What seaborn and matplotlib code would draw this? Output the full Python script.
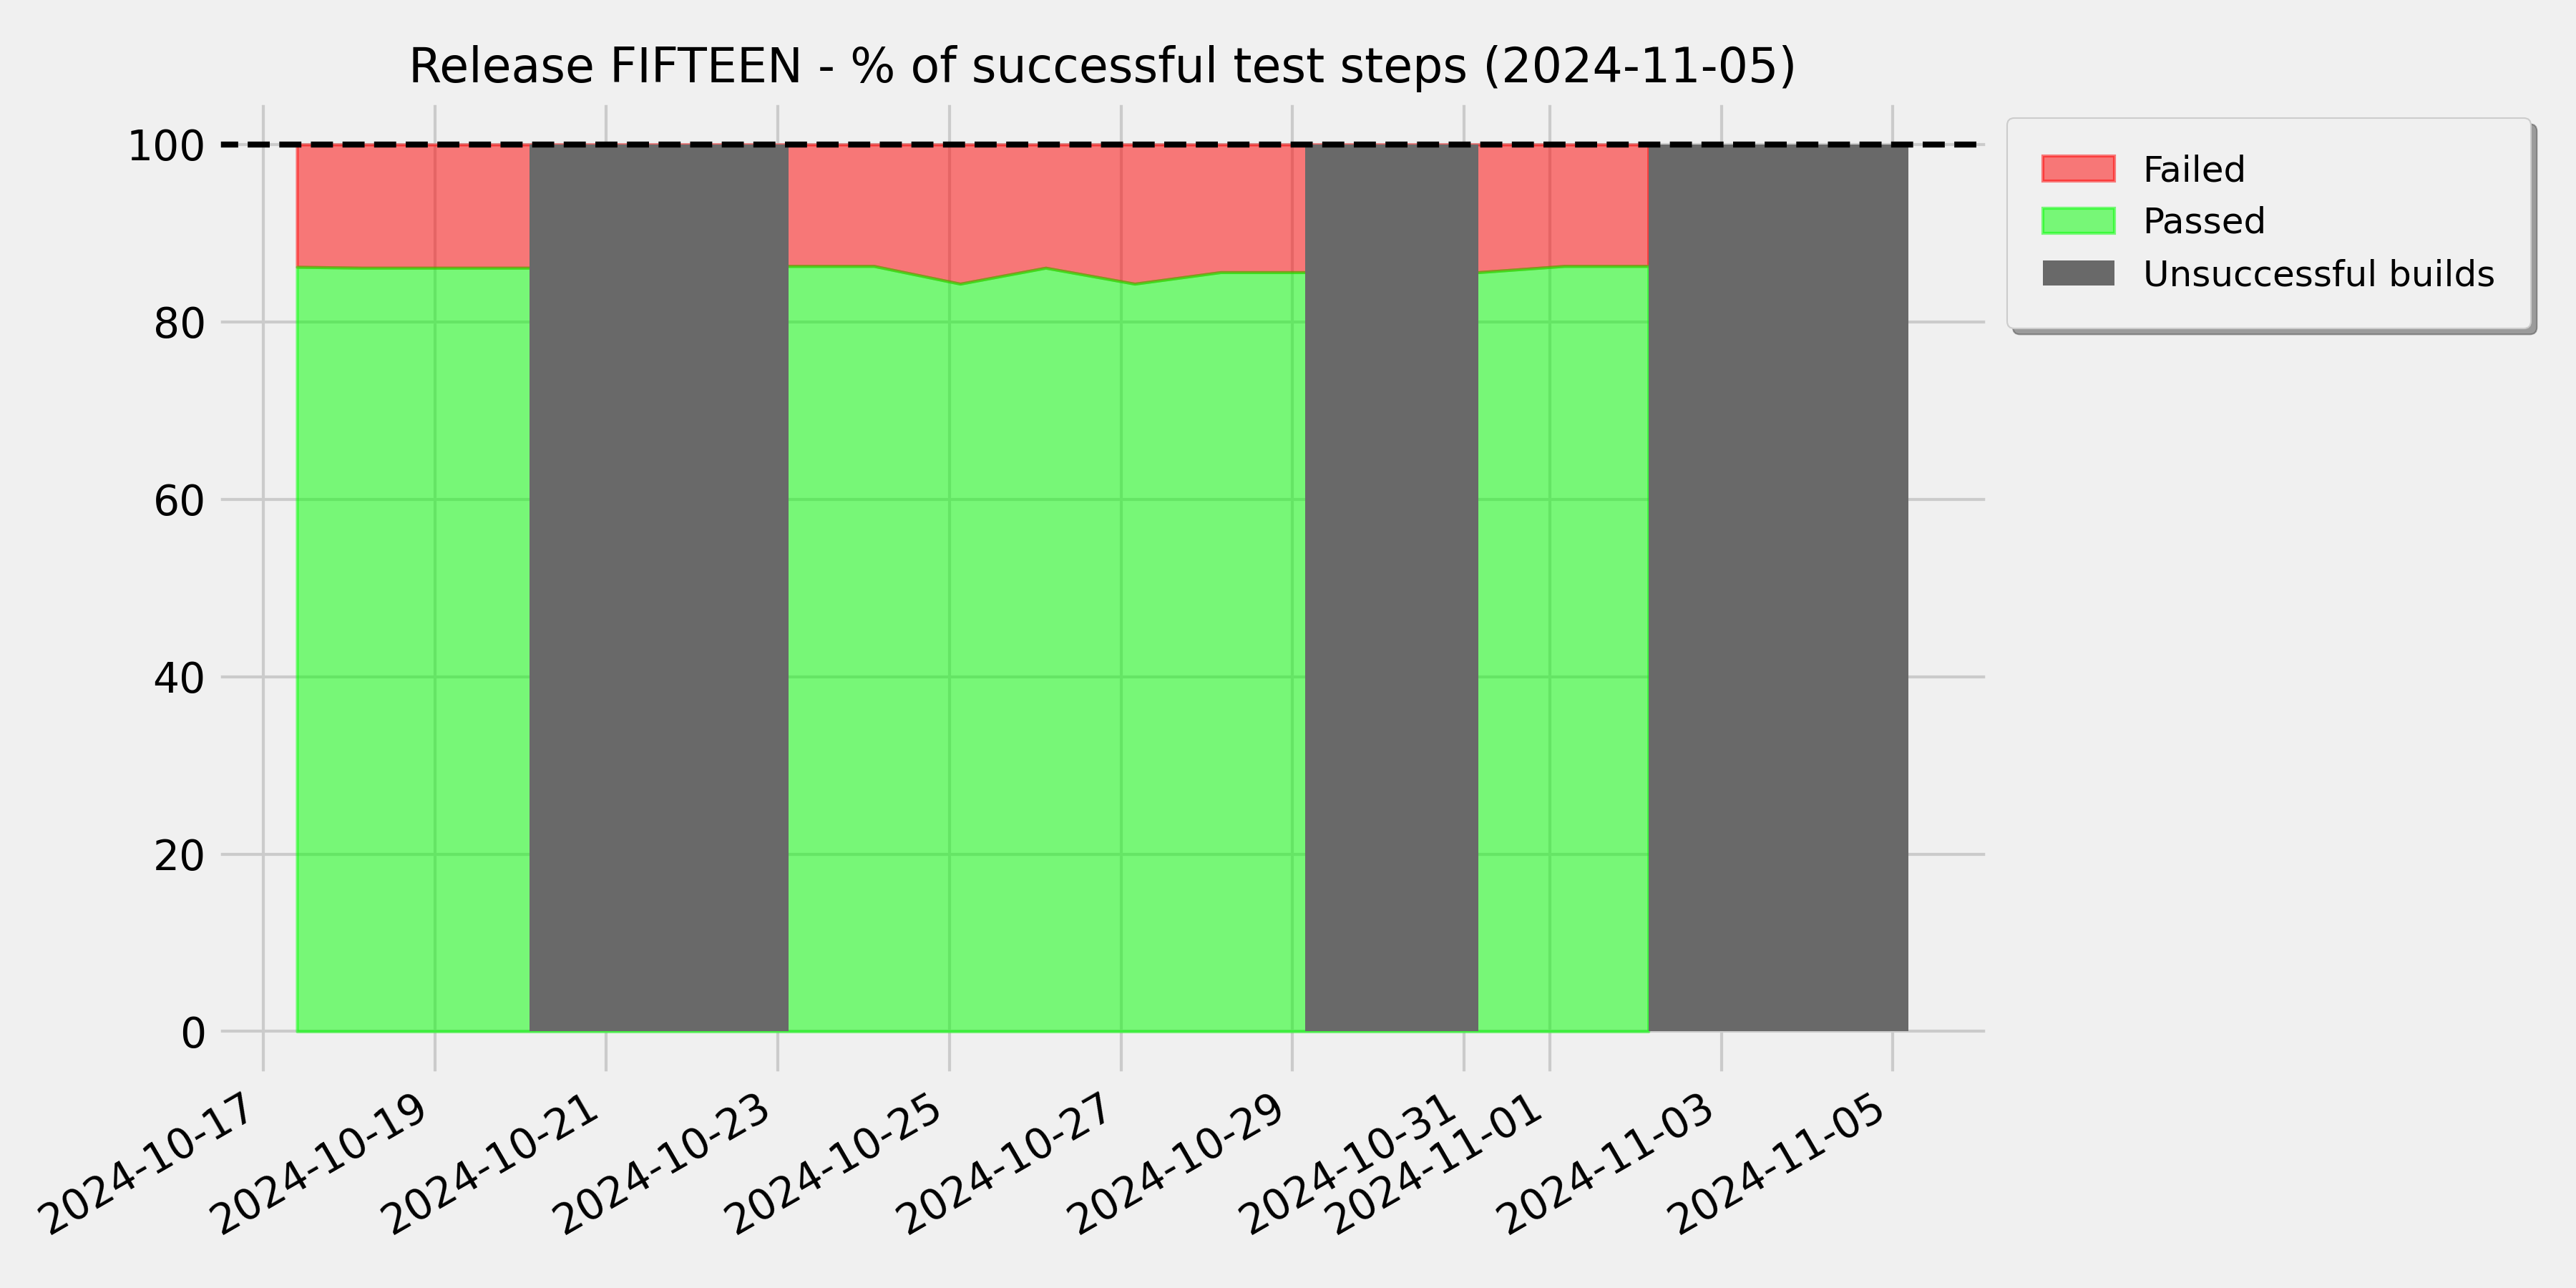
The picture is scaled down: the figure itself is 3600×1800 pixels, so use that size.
import pandas as pd
import matplotlib.pyplot as plt
import seaborn as sns

# builds with test results (timestamps + % passed steps)
build_times = [
    "2024-10-17 09:25", "2024-10-18 03:35", "2024-10-19 03:00", "2024-10-20 02:25",
    "2024-10-23 03:00", "2024-10-24 02:50", "2024-10-25 03:00", "2024-10-26 02:55",
    "2024-10-27 03:50", "2024-10-28 03:50", "2024-10-29 03:35",
    "2024-10-31 04:05", "2024-11-01 04:05", "2024-11-02 03:35",
]
passed_pct = [86.2, 86.1, 86.1, 86.1,
              86.3, 86.3, 84.3, 86.1, 84.3, 85.6, 85.6,
              85.6, 86.3, 86.3]

# periods with unsuccessful builds
unsuccessful_start = ["2024-10-20 02:25", "2024-10-29 03:35", "2024-11-02 03:35"]
unsuccessful_end = ["2024-10-23 03:00", "2024-10-31 04:05", "2024-11-05 04:20"]

release = "FIFTEEN"
report_date = "2024-11-05"

rc = dict(plt.style.library["fivethirtyeight"])
rc.update({
    "xtick.labelsize": 14, "ytick.labelsize": 14,
    "legend.fontsize": 12, "axes.titlesize": 16,
    "text.color": "black", "xtick.color": "black", "ytick.color": "black",
    "axes.labelcolor": "black",
})
sns.set_theme(rc=rc)
plt.rcParams["font.family"] = ["DejaVu Sans"]

df = pd.DataFrame({"time": pd.to_datetime(build_times), "passed": passed_pct})
df["failed"] = 100 - df["passed"]

fig, ax = plt.subplots(figsize=(12, 6), dpi=300)

area_colors = ["lime", "red"]
polys = ax.stackplot(df["time"], df["passed"], df["failed"],
                     colors=area_colors, alpha=0.5,
                     labels=["Passed", "Failed"])
for p, c in zip(polys, area_colors):
    p.set_edgecolor(c)
    p.set_linewidth(1)
polys[0].set_zorder(1.2)  # green edge on top of red edge

grey = None
for s, e in zip(pd.to_datetime(unsuccessful_start), pd.to_datetime(unsuccessful_end)):
    grey = ax.fill_between([s, e], 0, 100, color="dimgray", alpha=1.0,
                           linewidth=0, zorder=1.5)

ax.axhline(100, color="black", linestyle="--", linewidth=2)
ax.set_ylim(-5, 105)

ax.set_title(f"Release {release} - % of successful test steps ({report_date})")
ax.legend([polys[1], polys[0], grey], ["Failed", "Passed", "Unsuccessful builds"],
          loc="upper left", bbox_to_anchor=(1.0, 1.0), shadow=True,
          borderpad=1.0)

fig.autofmt_xdate()
plt.tight_layout()
plt.savefig("out.png", dpi=300)
plt.close()
